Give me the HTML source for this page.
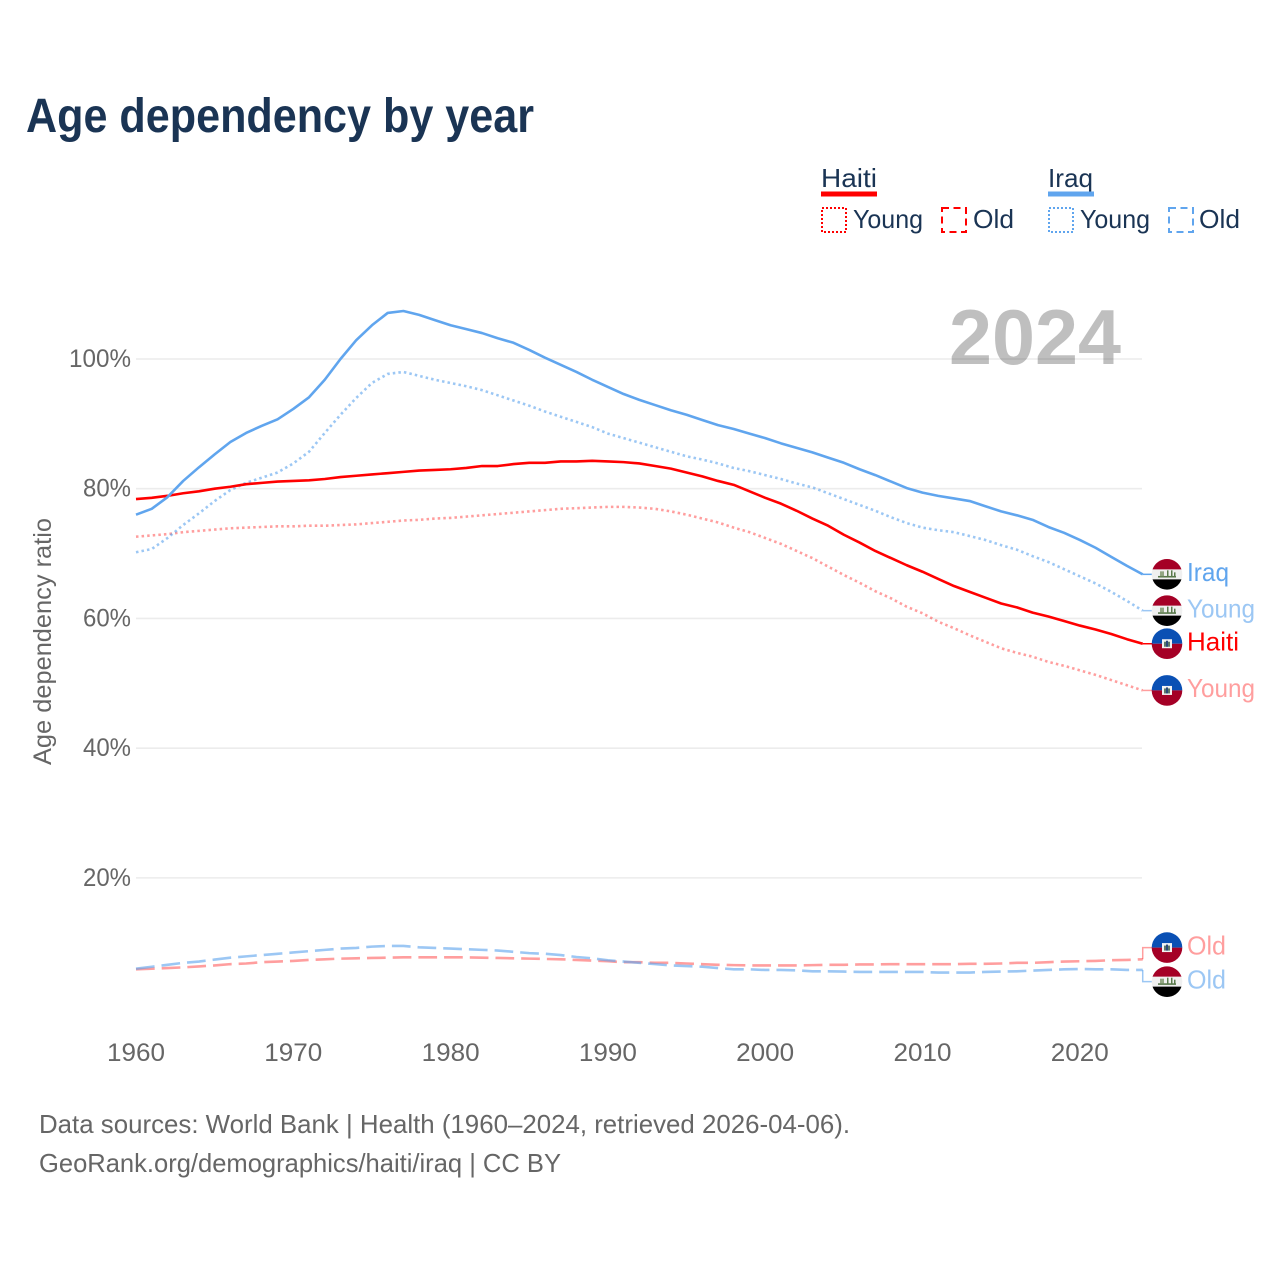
<!DOCTYPE html>
<html lang="en">
<head>
<meta charset="utf-8">
<title>Age dependency by year</title>
<style>
html,body{margin:0;padding:0;background:#fff}
svg{display:block;font-family:"Liberation Sans",sans-serif}
</style>
</head>
<body>
<svg id="chart" xmlns="http://www.w3.org/2000/svg" width="1280" height="1280" viewBox="0 0 1280 1280">
<rect x="0" y="0" width="1280" height="1280" fill="#ffffff"/>
<text x="26" y="132" font-size="48" font-weight="700" fill="#1a3454" textLength="508" lengthAdjust="spacingAndGlyphs">Age dependency by year</text>

<g font-size="26" fill="#1a3454">
<text x="821" y="187" textLength="56" lengthAdjust="spacingAndGlyphs">Haiti</text>
<rect x="821" y="191.5" width="56" height="5" fill="#ff0000"/>
<rect x="822" y="208" width="24" height="24" fill="none" stroke="#ff0000" stroke-width="2" stroke-dasharray="2 2"/>
<text x="853" y="228" textLength="70" lengthAdjust="spacingAndGlyphs">Young</text>
<rect x="942" y="208" width="24" height="24" fill="none" stroke="#ff0000" stroke-width="2" stroke-dasharray="7 4.5"/>
<text x="973" y="228" textLength="41" lengthAdjust="spacingAndGlyphs">Old</text>
<text x="1048" y="187" textLength="45" lengthAdjust="spacingAndGlyphs">Iraq</text>
<rect x="1048" y="191.5" width="46" height="5" fill="#60a5ee"/>
<rect x="1049" y="208" width="24" height="24" fill="none" stroke="#60a5ee" stroke-width="2" stroke-dasharray="2 2"/>
<text x="1080" y="228" textLength="70" lengthAdjust="spacingAndGlyphs">Young</text>
<rect x="1169" y="208" width="24" height="24" fill="none" stroke="#60a5ee" stroke-width="2" stroke-dasharray="7 4.5"/>
<text x="1199" y="228" textLength="41" lengthAdjust="spacingAndGlyphs">Old</text>
</g>

<g id="grid"></g>
<text x="949" y="364" font-size="78" font-weight="700" fill="#000000" fill-opacity="0.25" textLength="172" lengthAdjust="spacingAndGlyphs">2024</text>
<g id="ticks"></g>
<text transform="translate(51 765) rotate(-90)" font-size="25" fill="#666666" textLength="247" lengthAdjust="spacingAndGlyphs">Age dependency ratio</text>
<g id="series"></g>
<g id="markers"></g>

<text x="39" y="1133" font-size="26" fill="#666666" textLength="811" lengthAdjust="spacingAndGlyphs">Data sources: World Bank | Health (1960–2024, retrieved 2026-04-06).</text>
<text x="39" y="1172" font-size="26" fill="#666666" textLength="522" lengthAdjust="spacingAndGlyphs">GeoRank.org/demographics/haiti/iraq | CC BY</text>
</svg>

<script>
const years = [1960,1961,1962,1963,1964,1965,1966,1967,1968,1969,1970,1971,1972,1973,1974,1975,1976,1977,1978,1979,1980,1981,1982,1983,1984,1985,1986,1987,1988,1989,1990,1991,1992,1993,1994,1995,1996,1997,1998,1999,2000,2001,2002,2003,2004,2005,2006,2007,2008,2009,2010,2011,2012,2013,2014,2015,2016,2017,2018,2019,2020,2021,2022,2023,2024];
const iraqTotal = [76.0,76.9,78.7,81.2,83.3,85.3,87.2,88.6,89.7,90.7,92.3,94.1,96.8,100.0,102.9,105.2,107.1,107.4,106.8,106.0,105.2,104.6,104.0,103.2,102.5,101.4,100.2,99.1,98.0,96.8,95.7,94.6,93.7,92.9,92.1,91.4,90.6,89.8,89.2,88.5,87.8,87.0,86.3,85.6,84.8,84.0,83.0,82.1,81.1,80.1,79.4,78.9,78.5,78.1,77.3,76.5,75.9,75.2,74.1,73.2,72.1,70.9,69.5,68.1,66.8];
const iraqYoung = [70.2,70.7,72.4,74.4,76.2,78.1,79.8,80.9,81.7,82.5,83.9,85.7,88.6,91.4,94.0,96.3,97.7,98.0,97.4,96.8,96.3,95.8,95.2,94.4,93.6,92.8,91.9,91.1,90.3,89.5,88.5,87.8,87.1,86.4,85.7,85.0,84.5,83.9,83.2,82.7,82.1,81.5,80.8,80.2,79.3,78.4,77.5,76.6,75.6,74.7,74.0,73.6,73.3,72.7,72.1,71.3,70.6,69.6,68.7,67.6,66.5,65.4,64.1,62.7,61.2];
const iraqOld = [6.0,6.3,6.6,6.9,7.1,7.4,7.7,7.9,8.1,8.3,8.5,8.7,8.9,9.1,9.2,9.4,9.5,9.5,9.3,9.2,9.1,9.0,8.9,8.8,8.6,8.4,8.3,8.1,7.8,7.6,7.3,7.1,6.9,6.7,6.5,6.4,6.3,6.1,5.9,5.9,5.8,5.8,5.75,5.6,5.6,5.55,5.5,5.5,5.5,5.5,5.5,5.4,5.4,5.4,5.5,5.55,5.6,5.7,5.8,5.9,5.95,5.9,5.9,5.8,5.8];
const haitiTotal = [78.4,78.6,78.9,79.3,79.6,80.0,80.3,80.7,80.9,81.1,81.2,81.3,81.5,81.8,82.0,82.2,82.4,82.6,82.8,82.9,83.0,83.2,83.5,83.5,83.8,84.0,84.0,84.2,84.2,84.3,84.2,84.1,83.9,83.5,83.1,82.5,81.9,81.2,80.6,79.6,78.6,77.7,76.6,75.4,74.3,72.9,71.7,70.4,69.3,68.2,67.2,66.1,65.0,64.1,63.2,62.3,61.7,60.9,60.3,59.6,58.9,58.3,57.6,56.8,56.1];
const haitiYoung = [72.6,72.8,73.0,73.3,73.5,73.7,73.9,74.0,74.1,74.2,74.2,74.3,74.3,74.4,74.5,74.7,74.9,75.1,75.2,75.4,75.5,75.7,75.9,76.1,76.3,76.5,76.7,76.9,77.0,77.1,77.2,77.2,77.1,76.9,76.5,76.0,75.4,74.8,74.0,73.3,72.4,71.5,70.4,69.3,68.0,66.7,65.5,64.2,63.1,61.8,60.8,59.5,58.5,57.4,56.4,55.4,54.7,54.1,53.3,52.7,52.0,51.3,50.5,49.7,48.9];
const haitiOld = [5.9,6.0,6.1,6.2,6.35,6.5,6.7,6.8,7.0,7.1,7.2,7.35,7.45,7.55,7.6,7.65,7.7,7.75,7.75,7.75,7.75,7.75,7.7,7.65,7.6,7.55,7.5,7.45,7.35,7.25,7.15,7.0,7.0,6.9,6.9,6.8,6.7,6.6,6.55,6.5,6.5,6.5,6.5,6.55,6.6,6.6,6.65,6.65,6.7,6.7,6.7,6.7,6.7,6.75,6.75,6.8,6.9,6.9,7.0,7.1,7.15,7.2,7.3,7.35,7.45];
const yTickValues = [20,40,60,80,100];
const yTickLabels = ["20%","40%","60%","80%","100%"];
const xTickValues = [1960,1970,1980,1990,2000,2010,2020];
const xTickLabels = ["1960","1970","1980","1990","2000","2010","2020"];

const NS = "http://www.w3.org/2000/svg";
const xScale = function (year) { return 136 + (year - 1960) * 15.73; };
const yScale = function (value) { return 1007.6 - value * 6.486; };
const RED = "#ff0000";
const BLUE = "#60a5ee";
const DOT = "2.5 3.1";
const DASH = "18.7 7";

function make(tag, attrs, parent) {
  const el = document.createElementNS(NS, tag);
  for (const k in attrs) el.setAttribute(k, attrs[k]);
  parent.appendChild(el);
  return el;
}

const gridGroup = document.getElementById("grid");
const tickGroup = document.getElementById("ticks");

yTickValues.forEach(function (v, i) {
  const line = make("line", {x1: 136, x2: 1142, y1: yScale(v), y2: yScale(v), stroke: "#ececec", "stroke-width": 1.6}, gridGroup);
  
  
  const label = make("text", {x: 131, y: yScale(v) + 8, "text-anchor": "end", "font-size": 25, fill: "#666666", textLength: yTickLabels[i].length === 4 ? 62 : 48, lengthAdjust: "spacingAndGlyphs"}, tickGroup);
  label.textContent = yTickLabels[i];
  
  
});

xTickValues.forEach(function (year, i) {
  const label = make("text", {x: xScale(year), y: 1061, "text-anchor": "middle", "font-size": 25, fill: "#666666", textLength: 58, lengthAdjust: "spacingAndGlyphs"}, tickGroup);
  label.textContent = xTickLabels[i];
  
  
});

function pathFor(values) {
  return values.map(function (v, i) {
    return (i ? "L" : "M") + xScale(years[i]).toFixed(2) + " " + yScale(v).toFixed(2);
  }).join(" ");
}

function drawLine(values, color, opacity, dash, name) {
  const p = make("path", {d: pathFor(values), fill: "none", stroke: color, "stroke-opacity": opacity, "stroke-width": 2.6, "stroke-linejoin": "round"}, document.getElementById("series"));
  if (dash) p.setAttribute("stroke-dasharray", dash);
  
  
}

drawLine(haitiOld, RED, 0.38, DASH, 'haiti-old-line');
drawLine(iraqOld, BLUE, 0.62, DASH, 'iraq-old-line');
drawLine(haitiYoung, RED, 0.38, DOT, 'haiti-young-line');
drawLine(iraqYoung, BLUE, 0.62, DOT, 'iraq-young-line');
drawLine(haitiTotal, RED, 1, null, 'haiti-total-line');
drawLine(iraqTotal, BLUE, 1, null, 'iraq-total-line');

function haitiFlag(g, cx, cy) {
  make("path", {d: "M" + (cx - 15.3) + " " + cy + " A15.3 15.3 0 0 1 " + (cx + 15.3) + " " + cy + " Z", fill: "#0a50b4"}, g);
  make("path", {d: "M" + (cx - 15.3) + " " + cy + " A15.3 15.3 0 0 0 " + (cx + 15.3) + " " + cy + " Z", fill: "#a50026"}, g);
  make("rect", {x: cx - 5, y: cy - 4.5, width: 10, height: 9, fill: "#f3f3f3"}, g);
  make("rect", {x: cx - 3, y: cy - 2, width: 6, height: 5, fill: "#5c7a6a"}, g);
  make("rect", {x: cx - 1, y: cy - 3, width: 2, height: 6, fill: "#2c4a7a"}, g);
}

function iraqFlag(g, cx, cy) {
  const r = 15.3;
  const half = 14.46;
  make("circle", {cx: cx, cy: cy, r: r, fill: "#f0f0f0"}, g);
  make("path", {d: "M" + (cx - half) + " " + (cy - 5) + " A" + r + " " + r + " 0 0 1 " + (cx + half) + " " + (cy - 5) + " Z", fill: "#a50026"}, g);
  make("path", {d: "M" + (cx - half) + " " + (cy + 5) + " A" + r + " " + r + " 0 0 0 " + (cx + half) + " " + (cy + 5) + " Z", fill: "#000000"}, g);
  make("rect", {x: cx - 9, y: cy + 1.6, width: 18, height: 1.6, fill: "#5a7a4c"}, g);
  make("rect", {x: cx - 7, y: cy - 3, width: 4, height: 5, fill: "#7a9468", opacity: 0.8}, g);
  make("rect", {x: cx + 0, y: cy - 4, width: 1.5, height: 6, fill: "#5a7a4c"}, g);
  make("rect", {x: cx + 4, y: cy - 4, width: 1.5, height: 6, fill: "#5a7a4c"}, g);
  make("rect", {x: cx + 7, y: cy - 2, width: 1.5, height: 4, fill: "#5a7a4c"}, g);
}

function drawEnd(values, color, opacity, flag, text, labelWidth, dodge, name) {
  const host = document.getElementById("markers");
  const g = make("g", {}, host);
  
  
  const x0 = xScale(years[years.length - 1]);
  const y0 = yScale(values[values.length - 1]);
  const cy = y0 + dodge;
  const d = dodge === 0
    ? "M" + x0 + " " + y0 + " H1153"
    : "M" + x0 + " " + y0 + " V" + cy + " H1153";
  make("path", {d: d, fill: "none", stroke: color, "stroke-opacity": opacity, "stroke-width": 1.5}, g);
  flag(g, 1167, cy);
  const label = make("text", {x: 1187, y: cy + 6.8, "font-size": 26, fill: color, "fill-opacity": opacity, textLength: labelWidth, lengthAdjust: "spacingAndGlyphs"}, g);
  label.textContent = text;
}

drawEnd(iraqTotal, BLUE, 1, iraqFlag, "Iraq", 42, 0, 'iraq-total-end-label');
drawEnd(iraqYoung, BLUE, 0.62, iraqFlag, "Young", 68, 0, 'iraq-young-end-label');
drawEnd(haitiTotal, RED, 1, haitiFlag, "Haiti", 52, 0, 'haiti-total-end-label');
drawEnd(haitiYoung, RED, 0.38, haitiFlag, "Young", 68, 0, 'haiti-young-end-label');
drawEnd(haitiOld, RED, 0.38, haitiFlag, "Old", 39, -11.7, 'haiti-old-end-label');
drawEnd(iraqOld, BLUE, 0.62, iraqFlag, "Old", 39, 11.7, 'iraq-old-end-label');
</script>
</body>
</html>
